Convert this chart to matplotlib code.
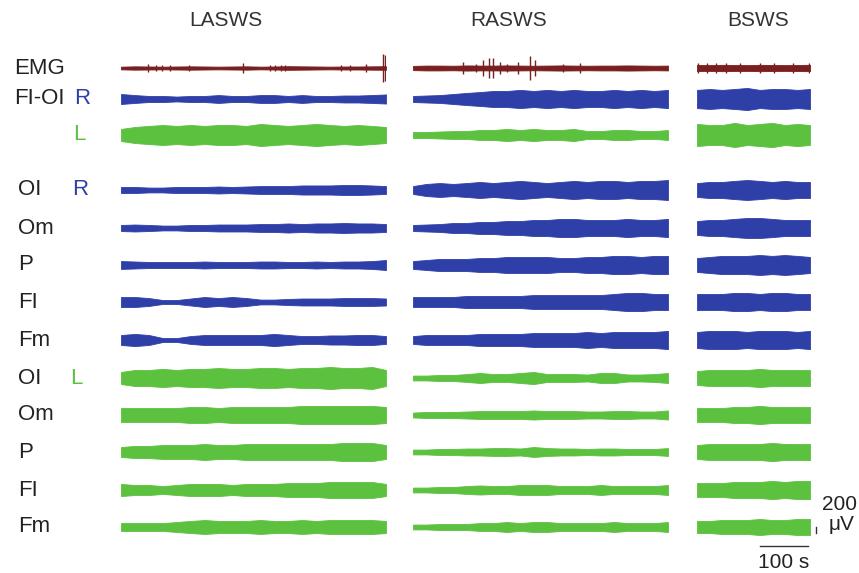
import numpy as np
import matplotlib.pyplot as plt

plt.rcParams['font.family'] = ['Liberation Sans', 'DejaVu Sans']

# Recording blocks and their lengths in seconds
blocks = ['LASWS', 'RASWS', 'BSWS']
durations = [548, 531, 235]

# Channel rows, top to bottom
channels = ['EMG', 'FI-OI R', 'FI-OI L', 'OI R', 'Om R', 'P R', 'FI R', 'Fm R',
            'OI L', 'Om L', 'P L', 'FI L', 'Fm L']

# Envelope half-amplitude (uV) of each trace, per block
env_lasws = {
    'EMG':     [45, 55, 50, 45, 50, 55, 50, 45, 50, 55, 45, 50, 60, 55, 50, 45, 50, 50, 55, 60],
    'FI-OI R': [165, 130, 100, 100, 80, 100, 100, 130, 100, 100, 130, 130, 100, 130, 100, 100, 115, 115, 130, 150],
    'FI-OI L': [200, 265, 300, 330, 300, 330, 300, 330, 330, 300, 365, 330, 300, 330, 365, 330, 300, 330, 300, 265],
    'OI R':    [100, 100, 80, 80, 100, 100, 100, 115, 100, 115, 130, 130, 130, 150, 150, 150, 165, 165, 150, 130],
    'Om R':    [100, 115, 100, 80, 80, 100, 100, 115, 115, 115, 130, 130, 150, 130, 150, 150, 165, 150, 150, 130],
    'P R':     [130, 115, 100, 100, 100, 100, 115, 100, 100, 100, 115, 115, 100, 100, 115, 100, 115, 115, 130, 165],
    'FI R':    [165, 165, 130, 65, 65, 115, 165, 130, 165, 130, 80, 80, 100, 115, 115, 115, 130, 130, 130, 115],
    'Fm R':    [165, 200, 165, 65, 65, 130, 165, 165, 165, 165, 165, 200, 165, 130, 130, 150, 150, 165, 165, 130],
    'OI L':    [200, 265, 265, 300, 265, 300, 300, 330, 300, 300, 330, 330, 300, 330, 330, 365, 330, 330, 365, 265],
    'Om L':    [230, 230, 230, 230, 230, 265, 265, 230, 265, 265, 265, 265, 265, 300, 300, 300, 300, 300, 300, 265],
    'P L':     [165, 200, 200, 230, 230, 230, 265, 230, 230, 265, 265, 265, 265, 265, 265, 265, 300, 300, 300, 230],
    'FI L':    [200, 165, 165, 130, 165, 200, 200, 200, 165, 200, 200, 200, 230, 230, 230, 265, 265, 265, 265, 200],
    'Fm L':    [130, 130, 130, 130, 165, 200, 230, 200, 200, 200, 230, 200, 200, 230, 200, 230, 230, 230, 230, 200],
}
env_rasws = {
    'EMG':     [70, 80, 80, 75, 85, 80, 80, 85, 80, 75, 80, 85, 80, 75, 80, 80, 85, 80, 75, 80],
    'FI-OI R': [100, 115, 130, 165, 200, 230, 265, 265, 300, 265, 300, 265, 300, 265, 265, 300, 265, 300, 265, 300],
    'FI-OI L': [100, 100, 115, 130, 130, 165, 165, 200, 165, 200, 165, 165, 200, 130, 130, 165, 165, 130, 130, 165],
    'OI R':    [130, 200, 230, 200, 230, 265, 230, 265, 300, 265, 230, 265, 300, 265, 300, 300, 265, 300, 300, 330],
    'Om R':    [100, 115, 130, 165, 165, 200, 200, 230, 230, 265, 265, 300, 300, 265, 265, 265, 300, 265, 265, 300],
    'P R':     [130, 165, 200, 200, 200, 230, 230, 265, 265, 265, 265, 230, 230, 265, 265, 300, 300, 265, 300, 300],
    'FI R':    [165, 165, 165, 165, 200, 200, 200, 200, 200, 230, 230, 230, 230, 230, 230, 265, 300, 300, 265, 265],
    'Fm R':    [130, 165, 165, 165, 165, 200, 200, 200, 200, 230, 230, 230, 230, 265, 230, 265, 265, 265, 265, 300],
    'OI L':    [80, 80, 100, 100, 130, 165, 130, 130, 165, 200, 130, 130, 130, 115, 165, 165, 115, 115, 130, 165],
    'Om L':    [80, 100, 100, 100, 115, 130, 130, 130, 130, 150, 130, 130, 130, 115, 115, 130, 130, 115, 115, 150],
    'P L':     [80, 80, 100, 100, 115, 115, 130, 130, 115, 165, 130, 115, 115, 100, 115, 115, 100, 100, 100, 130],
    'FI L':    [80, 80, 100, 100, 130, 150, 130, 130, 165, 165, 165, 130, 130, 130, 165, 130, 130, 130, 130, 165],
    'Fm L':    [80, 80, 100, 100, 100, 130, 130, 165, 130, 165, 165, 130, 130, 130, 130, 165, 130, 130, 130, 165],
}
env_bsws = {
    'EMG':     [100, 95, 105, 100, 95, 105, 100, 95, 100, 105],
    'FI-OI R': [300, 330, 300, 330, 365, 300, 330, 330, 300, 330],
    'FI-OI L': [365, 330, 330, 400, 330, 365, 400, 330, 365, 330],
    'OI R':    [230, 265, 265, 300, 330, 300, 265, 300, 265, 265],
    'Om R':    [230, 265, 265, 300, 330, 330, 300, 265, 265, 265],
    'P R':     [230, 265, 300, 300, 300, 330, 300, 330, 300, 265],
    'FI R':    [265, 265, 265, 300, 300, 265, 300, 300, 265, 265],
    'Fm R':    [265, 300, 300, 300, 265, 300, 300, 300, 265, 300],
    'OI L':    [230, 265, 265, 265, 265, 300, 265, 265, 265, 265],
    'Om L':    [230, 230, 230, 265, 265, 300, 265, 265, 265, 265],
    'P L':     [230, 265, 265, 265, 265, 265, 300, 265, 265, 265],
    'FI L':    [230, 230, 230, 265, 265, 265, 300, 265, 300, 300],
    'Fm L':    [200, 200, 230, 230, 230, 265, 230, 230, 265, 265],
}
envelopes = [env_lasws, env_rasws, env_bsws]

# EMG bursts: time (s) and half-amplitude (uV)
emg_spike_t = [
    [56, 73, 85, 102, 140, 252, 308, 318, 330, 340, 454, 473, 506, 542, 546],
    [104, 131, 146, 158, 167, 181, 196, 219, 244, 254, 313, 348],
    [2, 20, 40, 60, 90, 130, 160, 200, 232],
]
emg_spike_a = [
    [130, 100, 100, 100, 110, 165, 110, 100, 110, 100, 100, 110, 130, 460, 420],
    [200, 130, 250, 330, 330, 200, 130, 200, 380, 250, 130, 160],
    [165, 150, 165, 165, 150, 165, 150, 150, 165],
]

colors = {'EMG': '#7a1f1f', 'R': '#2f3fa8', 'L': '#5cc13f'}

# layout (pixels of the 859x573 picture)
W, H = 859, 573
UV_PER_PX = 33
row_px = [68, 99, 135, 190, 228, 265, 302, 340, 378, 415, 452, 490, 527]
block_px = [(121, 386), (413, 668), (697, 810)]
title_px = [226, 509, 758]

fig = plt.figure(figsize=(W / 100, H / 100), dpi=100)

axes = []
for b, (x0, x1) in enumerate(block_px):
    ax = fig.add_axes([x0 / W, 0, (x1 - x0) / W, 1])
    ax.set_xlim(0, durations[b])
    ax.set_ylim(-H * UV_PER_PX, 0)
    ax.axis('off')
    axes.append(ax)
    fig.text(title_px[b] / W, 1 - 21 / H, blocks[b], ha='center', va='center',
             fontsize=15, color='#333333')

    for r, ch in enumerate(channels):
        y0 = -row_px[r] * UV_PER_PX
        col = colors['EMG'] if ch == 'EMG' else colors[ch[-1]]
        env = np.array(envelopes[b][ch])
        t = np.linspace(0, durations[b], len(env))
        ax.fill_between(t, y0 - env, y0 + env, color=col, lw=0.6, ec=col)
        if ch == 'EMG':
            ax.vlines(emg_spike_t[b], y0 - np.array(emg_spike_a[b]),
                      y0 + np.array(emg_spike_a[b]), color=col, lw=1.0)

# channel labels
fs = 16
lab_kw = dict(fontsize=fs, color='#222222', va='center')
fig.text(14 / W, 1 - 68 / H, 'EMG', **lab_kw)
fig.text(14 / W, 1 - 99 / H, 'FI-OI', **lab_kw)
fig.text(74 / W, 1 - 99 / H, 'R', fontsize=fs, color=colors['R'], va='center')
fig.text(73 / W, 1 - 135 / H, 'L', fontsize=fs, color=colors['L'], va='center')
short = ['OI', 'Om', 'P', 'FI', 'Fm']
for i, name in enumerate(short):
    fig.text(18 / W, 1 - row_px[3 + i] / H, name, **lab_kw)
    fig.text(18 / W, 1 - row_px[8 + i] / H, name, **lab_kw)
fig.text(72 / W, 1 - row_px[3] / H, 'R', fontsize=fs, color=colors['R'], va='center')
fig.text(70 / W, 1 - row_px[8] / H, 'L', fontsize=fs, color=colors['L'], va='center')

# scale bars: 100 s and 200 uV
ax = axes[2]
bar_y = -546 * UV_PER_PX
ax.plot([131, 231], [bar_y, bar_y], color='#333333', lw=1.0, clip_on=False)
ax.text(181, -563 * UV_PER_PX, '100 s', ha='center', va='center', fontsize=15, color='#222222')
vy = -530 * UV_PER_PX
ax.plot([248, 248], [vy - 100, vy + 100], color='#333333', lw=1.0, clip_on=False)
fig.text(822 / W, 1 - 505 / H, '200', fontsize=15, color='#222222', va='center')
fig.text(829 / W, 1 - 524 / H, 'μV', fontsize=15, color='#222222', va='center')

fig.savefig('out.png', dpi=100, facecolor='white')
